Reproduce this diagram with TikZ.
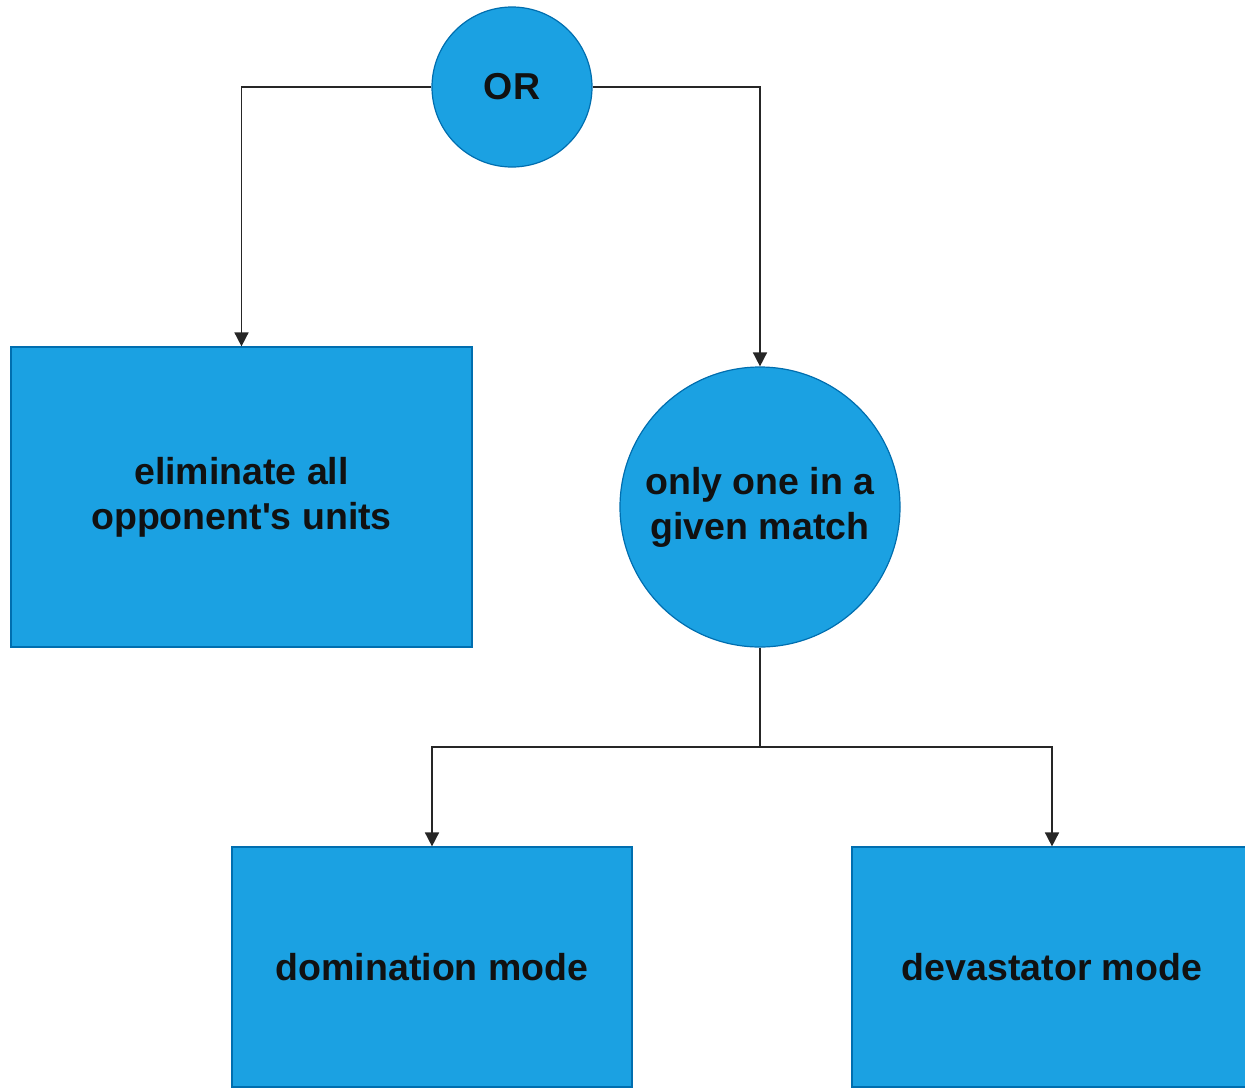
\documentclass[tikz,border=0pt]{standalone}
\usepackage{fontspec}
\setmainfont{Liberation Sans}
\usetikzlibrary{arrows.meta}
\definecolor{fillb}{HTML}{1BA1E2}
\definecolor{strokeb}{HTML}{006EAF}
\definecolor{txt}{HTML}{111111}
\begin{document}
\begin{tikzpicture}[x=1pt,y=-1pt,
  shapebox/.style={draw=strokeb,fill=fillb,line width=1.2pt,inner sep=0pt,text=txt,align=center,
    font=\fontsize{37.5}{45}\selectfont\bfseries},
  conn/.style={draw=black!85,line width=1.6pt,-{Triangle[width=14pt,length=14pt]}},
  plain/.style={draw=black!85,line width=1.6pt}]
\useasboundingbox (0,0) rectangle (1245,1088);
\clip (0,0) rectangle (1245,1088);
\node[shapebox,circle,minimum size=160pt] (or) at (512,87) {OR};
\node[shapebox,rectangle,minimum width=461pt,minimum height=300pt] (elim) at (241.5,497) {eliminate all\\opponent\textquotesingle s units};
\node[shapebox,circle,minimum size=280pt] (one) at (760,507) {only one in a\\given match};
\node[shapebox,rectangle,minimum width=400pt,minimum height=240pt] (dom) at (432,967) {domination mode};
\node[shapebox,rectangle,minimum width=400pt,minimum height=240pt] (dev) at (1052,967) {devastator mode};
\coordinate (j) at (760,747);
\draw[conn] (or.west) -| (elim.north);
\draw[conn] (or.east) -| (one.north);
\draw[plain] (one.south) -- (j);
\draw[conn] (j) -| (dom.north);
\draw[conn] (j) -| (dev.north);
\end{tikzpicture}
\end{document}
